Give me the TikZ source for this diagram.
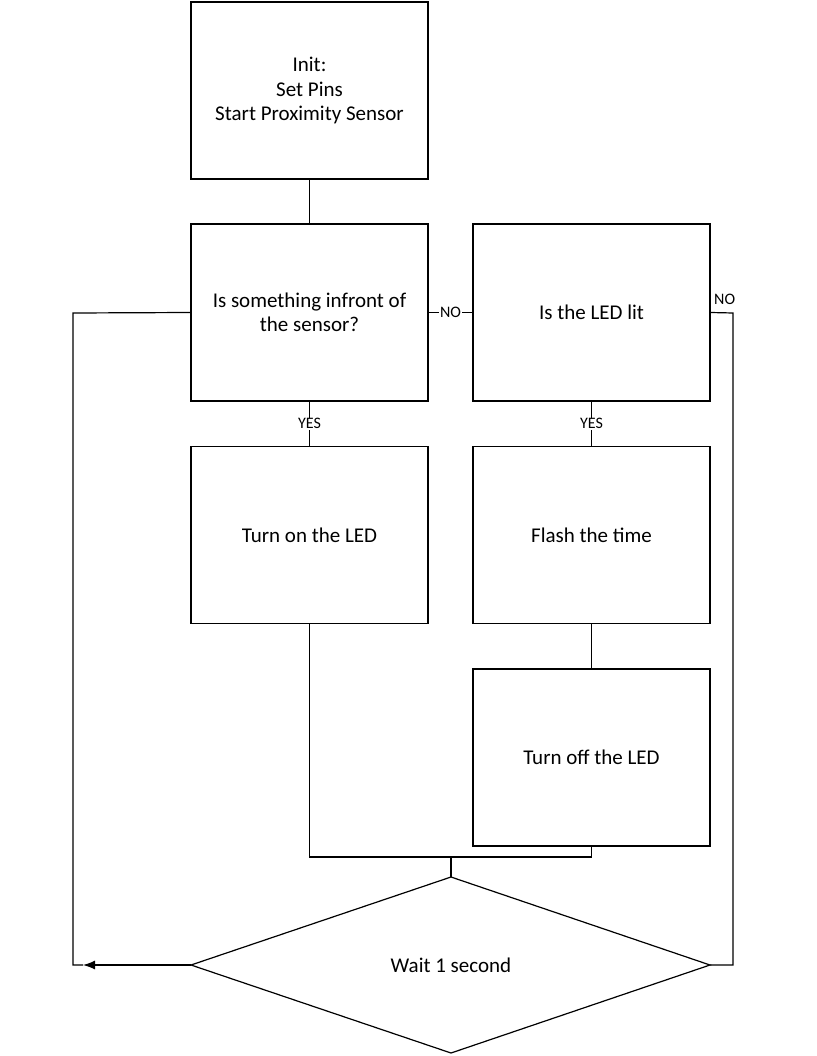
\documentclass[tikz,border=0pt]{standalone}
\usepackage{fontspec}
\setmainfont{Carlito}
\usetikzlibrary{shapes.geometric,arrows.meta}
\begin{document}
\begin{tikzpicture}[x=1pt,y=-1pt,
  box/.style={draw, line width=1.2pt, minimum width=237pt, minimum height=177pt, align=center, font=\fontsize{21}{24.5}\selectfont, inner sep=0pt},
  conn/.style={line width=1.2pt},
  lbl/.style={font=\fontsize{16}{18}\selectfont, fill=white, inner sep=1pt}]
\useasboundingbox (0,0) rectangle (816,1056);
\node[box] (init) at (309.5,90.5) {Init:\\Set Pins\\Start Proximity Sensor};
\node[box] (is) at (309.5,312.5) {Is something infront of\\the sensor?};
\node[box] (lit) at (591.5,312.5) {Is the LED lit};
\node[box] (on) at (309.5,535) {Turn on the LED};
\node[box] (flash) at (591.5,535) {Flash the time};
\node[box] (off) at (591.5,757.5) {Turn off the LED};
\draw[line width=1.2pt] (191,965) coordinate (dw) -- (451,877) coordinate (dn) -- (710,965) coordinate (de) -- (451,1053) -- cycle;
\node[font=\fontsize{21}{24.5}\selectfont] (wait) at (451,965) {Wait 1 second};
\coordinate (join) at (451,857);
\coordinate (ll) at (73,965);
\coordinate (lu) at (73,313);
\coordinate (rr) at (733,313);
\coordinate (rd) at (733,965);
\coordinate (tip) at (83,965);
\draw[conn] (init.south) -- (is.north);
\draw[conn] (is.east) -- node[lbl]{NO} (lit.west);
\draw[conn] (is.south) -- node[lbl]{YES} (on.north);
\draw[conn] (lit.south) -- node[lbl]{YES} (flash.north);
\draw[conn] (flash.south) -- (off.north);
\draw[conn] (on.south) |- (join) -| (off.south);
\draw[conn] (join) -- (dn);
\draw[conn] (lit.east) -- (rr) -- (rd) -- (de);
\node[font=\fontsize{16}{18}\selectfont, anchor=south west, inner sep=1pt] (nolbl) at (713,306) {NO};
\draw[conn, -{Latex[length=12pt,width=9pt]}] (dw) -- (tip);
\draw[conn] (tip) -- (ll) -- (lu) -- (is.west);
\end{tikzpicture}
\end{document}
